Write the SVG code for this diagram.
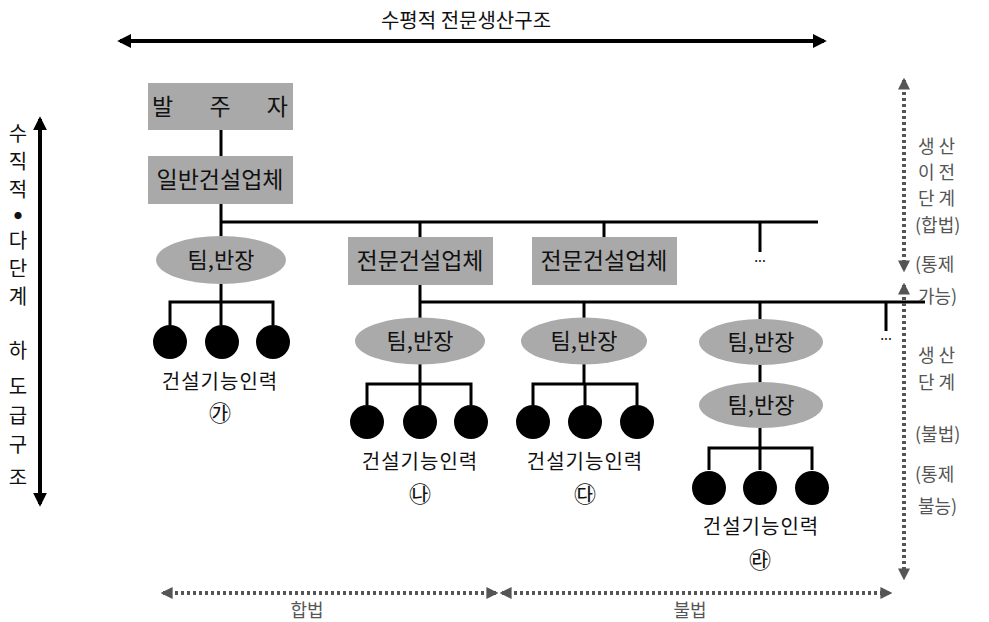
<svg xmlns="http://www.w3.org/2000/svg" width="989" height="622" viewBox="0 0 989 622">
<style>
.t{font-family:"Noto Sans CJK KR","Noto Sans",sans-serif;fill:#111}
.g{font-family:"Noto Sans CJK KR","Noto Sans",sans-serif;fill:#555}
.box{fill:#a9a9a9}
.ell{fill:#aaaaaa}
.ln{stroke:#000;stroke-width:3;fill:none}
.dot{stroke:#555;stroke-width:4;stroke-dasharray:3 3;fill:none}
.big{stroke:#000;stroke-width:4;fill:none}
</style>
<defs>
<marker id="ab" viewBox="0 0 10 10" refX="8" refY="5" markerWidth="3.5" markerHeight="3.5" orient="auto-start-reverse" markerUnits="strokeWidth"><path d="M0,0 L10,5 L0,10 Z" fill="#000"/></marker>
<marker id="ag" viewBox="0 0 10 10" refX="8" refY="5" markerWidth="3" markerHeight="3" orient="auto-start-reverse" markerUnits="strokeWidth"><path d="M0,0 L10,5 L0,10 Z" fill="#555"/></marker>
</defs>
<rect width="989" height="622" fill="#fff"/>

<g id="axis-top">
<text class="t" x="466" y="28" font-size="20" text-anchor="middle">수평적 전문생산구조</text>
<line class="big" x1="120" y1="41" x2="824" y2="41" marker-start="url(#ab)" marker-end="url(#ab)"/>
</g>

<g id="axis-left">
<line class="big" x1="40" y1="119" x2="40" y2="504" marker-start="url(#ab)" marker-end="url(#ab)"/>
<g class="t" font-size="20" text-anchor="middle">
<text x="18" y="141">수</text>
<text x="18" y="169">직</text>
<text x="18" y="197">적</text>
<text x="18" y="219" font-size="8">●</text>
<text x="18" y="248">다</text>
<text x="18" y="276">단</text>
<text x="18" y="304">계</text>
<text x="18" y="358">하</text>
<text x="18" y="394">도</text>
<text x="18" y="423">급</text>
<text x="18" y="452">구</text>
<text x="18" y="485">조</text>
</g>
</g>

<g id="connectors">
<line class="ln" x1="221" y1="130" x2="221" y2="156"/>
<line class="ln" x1="221" y1="204" x2="221" y2="237"/>
<line class="ln" x1="221" y1="222" x2="818" y2="222"/>
<line class="ln" x1="420" y1="222" x2="420" y2="237"/>
<line class="ln" x1="604" y1="222" x2="604" y2="237"/>
<line class="ln" x1="760" y1="222" x2="760" y2="252"/>
<line class="ln" x1="221" y1="284" x2="221" y2="302"/>
<path class="ln" d="M170,325 V302 H273 V325 M221,302 V325"/>
<line class="ln" x1="420" y1="285" x2="420" y2="318"/>
<line class="ln" x1="420" y1="302" x2="925" y2="302"/>
<line class="ln" x1="584" y1="302" x2="584" y2="318"/>
<line class="ln" x1="760" y1="302" x2="760" y2="319"/>
<line class="ln" x1="886" y1="302" x2="886" y2="331"/>
<line class="ln" x1="420" y1="364" x2="420" y2="384"/>
<path class="ln" d="M367,405 V384 H471 V405 M420,384 V405"/>
<line class="ln" x1="584" y1="364" x2="584" y2="384"/>
<path class="ln" d="M533,405 V384 H637 V405 M585,384 V405"/>
<line class="ln" x1="760" y1="364" x2="760" y2="383"/>
<line class="ln" x1="760" y1="428" x2="760" y2="448"/>
<path class="ln" d="M709,470 V448 H812 V470 M760,448 V470"/>
</g>

<g id="n-client">
<rect class="box" x="148" y="83" width="145" height="47"/>
<text class="t" x="220" y="115" font-size="23" text-anchor="middle" textLength="136" lengthAdjust="spacing">발 주 자</text>
</g>
<g id="n-general">
<rect class="box" x="148" y="156" width="145" height="48"/>
<text class="t" x="220" y="188" font-size="23" text-anchor="middle">일반건설업체</text>
</g>
<g id="n-team1">
<ellipse class="ell" cx="221" cy="260" rx="65" ry="24"/>
<text class="t" x="221" y="268" font-size="22" text-anchor="middle">팀,반장</text>
</g>
<g id="n-workers1">
<circle cx="170" cy="342" r="17"/><circle cx="222" cy="342" r="17"/><circle cx="273" cy="342" r="17"/>
<text class="t" x="220" y="389" font-size="20" text-anchor="middle" letter-spacing="1">건설기능인력</text>
<text class="t" x="220" y="421" font-size="22" text-anchor="middle">㉮</text>
</g>

<g id="n-special1">
<rect class="box" x="348" y="237" width="145" height="48"/>
<text class="t" x="420" y="269" font-size="23" text-anchor="middle">전문건설업체</text>
</g>
<g id="n-special2">
<rect class="box" x="532" y="237" width="145" height="48"/>
<text class="t" x="604" y="269" font-size="23" text-anchor="middle">전문건설업체</text>
</g>
<g id="n-more1">
<text class="t" x="760" y="262" font-size="14" text-anchor="middle">...</text>
</g>
<g id="n-more2">
<text class="t" x="886" y="340" font-size="14" text-anchor="middle">...</text>
</g>

<g id="n-team2">
<ellipse class="ell" cx="420" cy="341" rx="65" ry="23.5"/>
<text class="t" x="420" y="349" font-size="22" text-anchor="middle">팀,반장</text>
</g>
<g id="n-workers2">
<circle cx="367" cy="422" r="17"/><circle cx="420" cy="422" r="17"/><circle cx="471" cy="422" r="17"/>
<text class="t" x="420" y="469" font-size="20" text-anchor="middle" letter-spacing="1">건설기능인력</text>
<text class="t" x="420" y="502" font-size="22" text-anchor="middle">㉯</text>
</g>
<g id="n-team3">
<ellipse class="ell" cx="584" cy="341" rx="63" ry="23.5"/>
<text class="t" x="584" y="349" font-size="22" text-anchor="middle">팀,반장</text>
</g>
<g id="n-workers3">
<circle cx="533" cy="422" r="17"/><circle cx="585" cy="422" r="17"/><circle cx="637" cy="422" r="17"/>
<text class="t" x="585" y="469" font-size="20" text-anchor="middle" letter-spacing="1">건설기능인력</text>
<text class="t" x="585" y="502" font-size="22" text-anchor="middle">㉰</text>
</g>
<g id="n-team4a">
<ellipse class="ell" cx="761" cy="342" rx="62" ry="23"/>
<text class="t" x="761" y="350" font-size="22" text-anchor="middle">팀,반장</text>
</g>
<g id="n-team4b">
<ellipse class="ell" cx="761" cy="405" rx="62" ry="23"/>
<text class="t" x="761" y="413" font-size="22" text-anchor="middle">팀,반장</text>
</g>
<g id="n-workers4">
<circle cx="709" cy="488" r="17"/><circle cx="760" cy="488" r="17"/><circle cx="812" cy="488" r="17"/>
<text class="t" x="761" y="534" font-size="20" text-anchor="middle" letter-spacing="1">건설기능인력</text>
<text class="t" x="760" y="568" font-size="22" text-anchor="middle">㉱</text>
</g>

<g id="axis-right">
<line class="dot" x1="904" y1="80" x2="904" y2="270" marker-start="url(#ag)" marker-end="url(#ag)"/>
<line class="dot" x1="904" y1="285" x2="904" y2="578" marker-start="url(#ag)" marker-end="url(#ag)"/>
<g class="g" font-size="18">
<text x="918" y="153">생 산</text>
<text x="918" y="179">이 전</text>
<text x="918" y="205">단 계</text>
<text x="915" y="232">(합법)</text>
<text x="915" y="271">(통제</text>
<text x="918" y="303">가능)</text>
<text x="918" y="362">생 산</text>
<text x="918" y="389">단 계</text>
<text x="915" y="441">(불법)</text>
<text x="915" y="481">(통제</text>
<text x="918" y="513">불능)</text>
</g>
</g>

<g id="axis-bottom">
<line class="dot" x1="163" y1="593" x2="496" y2="593" marker-start="url(#ag)" marker-end="url(#ag)"/>
<line class="dot" x1="502" y1="593" x2="890" y2="593" marker-start="url(#ag)" marker-end="url(#ag)"/>
<text class="g" x="307" y="617" font-size="18" text-anchor="middle">합법</text>
<text class="g" x="690" y="617" font-size="18" text-anchor="middle">불법</text>
</g>
</svg>
